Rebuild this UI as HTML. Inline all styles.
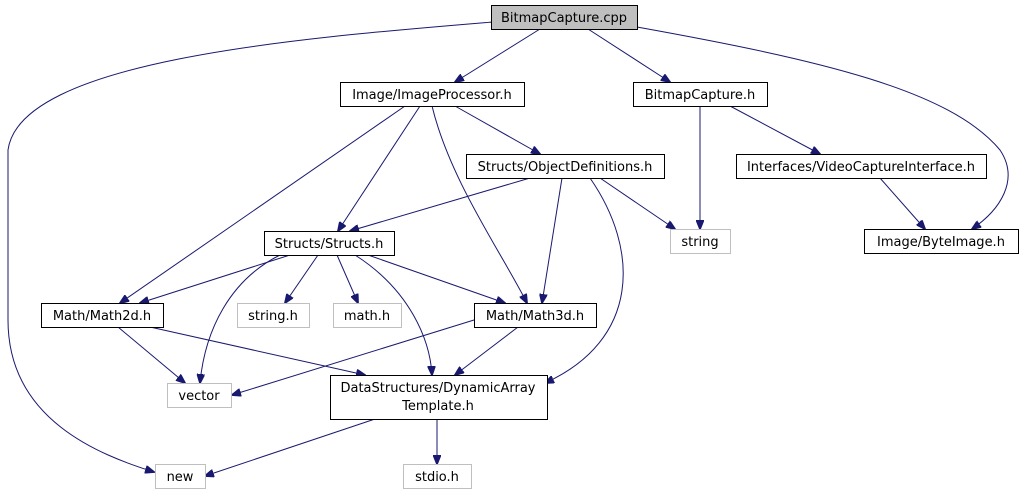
<!DOCTYPE html>
<html><head><meta charset="utf-8"><style>
html,body{margin:0;padding:0;background:#fff;width:1022px;height:500px;overflow:hidden}
text{font-family:"DejaVu Sans","Liberation Sans",sans-serif;font-size:13px;fill:#000}
.e{fill:none;stroke:#191970;stroke-width:1}
.n{fill:#fff;stroke:#000;stroke-width:1}
.g{fill:#fff;stroke:#bfbfbf;stroke-width:1}
</style></head><body>
<svg width="1022" height="500" xmlns="http://www.w3.org/2000/svg">
<defs><marker id="a" markerWidth="10" markerHeight="8" refX="9" refY="4" orient="auto" markerUnits="userSpaceOnUse"><path d="M0,0 L10,4 L0,8 z" fill="#191970" stroke="#191970"/></marker></defs>
<g marker-end="url(#a)">
<path class="e" d="M493,22 C300,38 20,60 8,150 L8,320 C8,420 100,455 154,472"/>
<path class="e" d="M540,29 L455,82"/>
<path class="e" d="M588,29 L670,82"/>
<path class="e" d="M637,27 C820,60 950,90 1000,150 C1020,180 1000,210 972,229"/>
<path class="e" d="M455,106 L540,154"/>
<path class="e" d="M420,106 L338,231"/>
<path class="e" d="M405,106 L120,303"/>
<path class="e" d="M432,106 C450,180 500,250 527,303"/>
<path class="e" d="M700,106 L700,229"/>
<path class="e" d="M730,106 L820,154"/>
<path class="e" d="M880,178 L925,229"/>
<path class="e" d="M530,178 L350,231"/>
<path class="e" d="M600,178 L675,229"/>
<path class="e" d="M562,178 L542,303"/>
<path class="e" d="M590,178 C640,250 640,340 545,383"/>
<path class="e" d="M290,255 L140,303"/>
<path class="e" d="M318,255 L285,303"/>
<path class="e" d="M337,255 L358,303"/>
<path class="e" d="M368,255 L505,303"/>
<path class="e" d="M280,255 C230,280 205,330 200,383"/>
<path class="e" d="M355,255 C410,290 430,340 432,375"/>
<path class="e" d="M118,327 L185,383"/>
<path class="e" d="M150,327 L365,375"/>
<path class="e" d="M474,320 L232,395"/>
<path class="e" d="M518,327 L455,375"/>
<path class="e" d="M375,419 L205,476"/>
<path class="e" d="M437,419 L437,464"/>
</g>
<rect x="491.5" y="5.5" width="146" height="24" fill="#bfbfbf" stroke="#000"/>
<text x="564" y="22" text-anchor="middle">BitmapCapture.cpp</text>
<rect class="n" x="340.5" y="82.5" width="184" height="24"/><text x="432" y="99" text-anchor="middle">Image/ImageProcessor.h</text>
<rect class="n" x="633.5" y="82.5" width="134" height="24"/><text x="700" y="99" text-anchor="middle">BitmapCapture.h</text>
<rect class="n" x="466.5" y="154.5" width="198" height="24"/><text x="565" y="171" text-anchor="middle">Structs/ObjectDefinitions.h</text>
<rect class="n" x="736.5" y="154.5" width="250" height="24"/><text x="861" y="171" text-anchor="middle">Interfaces/VideoCaptureInterface.h</text>
<rect class="n" x="264.5" y="231.5" width="130" height="24"/><text x="329" y="248" text-anchor="middle">Structs/Structs.h</text>
<rect class="g" x="670.5" y="229.5" width="60" height="24"/><text x="700" y="246" text-anchor="middle">string</text>
<rect class="n" x="864.5" y="229.5" width="154" height="24"/><text x="941" y="246" text-anchor="middle">Image/ByteImage.h</text>
<rect class="n" x="41.5" y="303.5" width="122" height="24"/><text x="102" y="320" text-anchor="middle">Math/Math2d.h</text>
<rect class="g" x="237.5" y="303.5" width="72" height="24"/><text x="273" y="320" text-anchor="middle">string.h</text>
<rect class="g" x="333.5" y="303.5" width="68" height="24"/><text x="367" y="320" text-anchor="middle">math.h</text>
<rect class="n" x="474.5" y="303.5" width="122" height="24"/><text x="535" y="320" text-anchor="middle">Math/Math3d.h</text>
<rect class="g" x="167.5" y="383.5" width="64" height="24"/><text x="199" y="400" text-anchor="middle">vector</text>
<rect class="n" x="330.5" y="375.5" width="217" height="44"/><text x="438" y="392" text-anchor="middle">DataStructures/DynamicArray</text><text x="438" y="410" text-anchor="middle">Template.h</text>
<rect class="g" x="155.5" y="464.5" width="50" height="24"/><text x="180" y="481" text-anchor="middle">new</text>
<rect class="g" x="403.5" y="464.5" width="68" height="24"/><text x="437" y="481" text-anchor="middle">stdio.h</text>
</svg>
</body></html>
